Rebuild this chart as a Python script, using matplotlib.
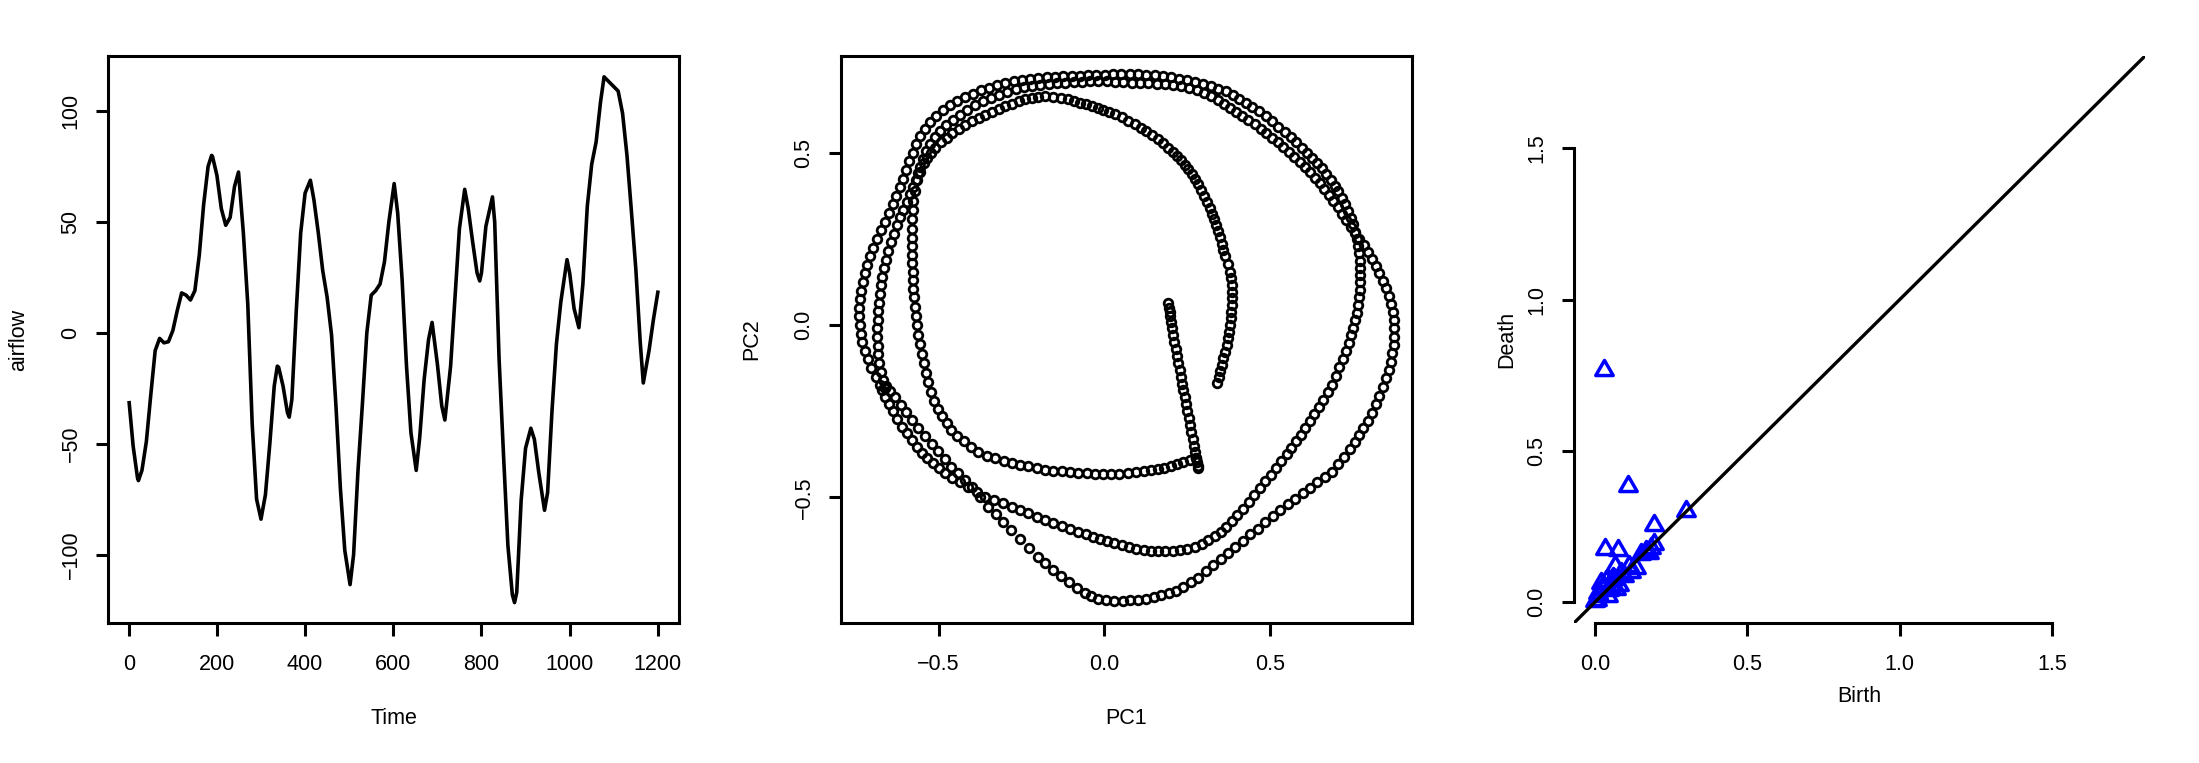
import numpy as np
import matplotlib
matplotlib.use("Agg")
import matplotlib.pyplot as plt
from matplotlib.path import Path

plt.rcParams['font.family'] = ['Liberation Sans', 'DejaVu Sans']
plt.rcParams['font.size'] = 15.5

# ---- panel 1: airflow series ----
time = [1, 10, 20, 22, 30, 40, 50, 60, 70, 80, 90, 100, 110, 120, 130, 140, 150, 160,
        170, 180, 188, 190, 200, 210, 220, 230, 240, 249, 260, 270, 280, 290, 300, 310,
        320, 330, 337, 340, 350, 360, 364, 370, 380, 390, 400, 412, 420, 430, 440, 450,
        460, 470, 480, 490, 502, 510, 520, 530, 540, 550, 560, 570, 580, 590, 602, 610,
        620, 630, 640, 652, 660, 670, 680, 688, 700, 710, 717, 730, 740, 750, 762, 770,
        780, 790, 796, 800, 810, 825, 830, 840, 850, 860, 870, 875, 880, 890, 900, 912,
        920, 930, 943, 950, 960, 970, 980, 994, 1000, 1010, 1021, 1030, 1040, 1050,
        1060, 1070, 1078, 1090, 1100, 1110, 1120, 1130, 1140, 1150, 1160, 1167, 1180,
        1190, 1200]
airflow = [-31.5, -51, -65.5, -66.6, -62, -49, -28, -8, -2.5, -4.5, -4, 1, 10, 18, 17, 14.8,
           19, 35, 58, 75, 80, 79.5, 71, 56, 48.5, 52, 66, 72.5, 45, 13, -41, -75, -84, -73,
           -50, -24, -15, -15.5, -24, -36, -38, -30, 10, 45, 63, 68.8, 60, 45, 28, 16,
           -1, -33, -70, -98, -113.5, -100, -62, -32, 0, 17, 19, 22, 32, 50, 67.3, 54,
           24, -15, -45, -62, -47, -21, -3, 4.7, -14, -33, -39.3, -15, 16, 47, 64.7, 56,
           41, 27, 23.4, 27, 48, 61.3, 50, -12, -55, -96, -118, -121.6, -117, -75.5, -52, -43,
           -48, -63, -80, -72, -35, -5, 14, 33, 27, 11, 2.3, 22, 57, 76,
           86, 104, 115.4, 113, 111, 109, 99, 80, 55, 29, -4, -22.6, -8,
           6, 18.3]
p1_xticks = [0, 200, 400, 600, 800, 1000, 1200]
p1_yticks = [-100, -50, 0, 50, 100]
p1_ylabels = ['\u2212100', '\u221250', '0', '50', '100']

# ---- panel 2: PC1/PC2 trajectory, circles read along each visible strand ----
inner_loop = [
    (0.340, -0.169), (0.344, -0.151), (0.349, -0.133), (0.353, -0.116), (0.358, -0.097),
    (0.363, -0.077), (0.368, -0.058), (0.373, -0.039), (0.376, -0.019), (0.378, 0.000),
    (0.380, 0.019), (0.382, 0.039), (0.383, 0.058), (0.384, 0.078), (0.384, 0.097),
    (0.383, 0.117), (0.381, 0.136), (0.379, 0.155), (0.372, 0.178), (0.363, 0.200),
    (0.358, 0.218), (0.353, 0.236), (0.348, 0.255), (0.343, 0.273), (0.337, 0.290),
    (0.331, 0.307), (0.325, 0.323), (0.318, 0.340), (0.309, 0.357), (0.300, 0.374),
    (0.292, 0.391), (0.283, 0.408), (0.273, 0.423), (0.263, 0.437), (0.253, 0.452),
    (0.243, 0.466), (0.231, 0.478), (0.218, 0.491), (0.206, 0.503), (0.193, 0.515),
    (0.176, 0.528), (0.160, 0.541), (0.143, 0.553), (0.126, 0.563), (0.109, 0.573),
    (0.092, 0.583), (0.072, 0.593), (0.052, 0.603), (0.032, 0.612), (0.015, 0.618),
    (-0.003, 0.624), (-0.020, 0.630), (-0.038, 0.636), (-0.056, 0.641), (-0.074, 0.646),
    (-0.091, 0.650), (-0.109, 0.655), (-0.132, 0.658), (-0.156, 0.662), (-0.179, 0.665),
    (-0.199, 0.663), (-0.219, 0.660), (-0.239, 0.656), (-0.259, 0.650), (-0.279, 0.643),
    (-0.299, 0.635), (-0.319, 0.626), (-0.339, 0.618), (-0.359, 0.609), (-0.379, 0.601),
    (-0.399, 0.592), (-0.419, 0.581), (-0.439, 0.570), (-0.459, 0.558), (-0.476, 0.544),
    (-0.493, 0.530), (-0.510, 0.515), (-0.523, 0.500), (-0.535, 0.485), (-0.545, 0.470),
    (-0.555, 0.445), (-0.565, 0.420), (-0.571, 0.390), (-0.576, 0.360), (-0.578, 0.333),
    (-0.579, 0.307), (-0.580, 0.280), (-0.580, 0.254), (-0.580, 0.228), (-0.580, 0.203),
    (-0.579, 0.179), (-0.578, 0.154), (-0.577, 0.130), (-0.576, 0.106), (-0.574, 0.080),
    (-0.571, 0.053), (-0.568, 0.027), (-0.565, 0.000), (-0.561, -0.028), (-0.556, -0.055),
    (-0.551, -0.083), (-0.545, -0.110), (-0.538, -0.138), (-0.531, -0.165), (-0.523, -0.193),
    (-0.515, -0.220), (-0.503, -0.243), (-0.490, -0.264), (-0.476, -0.285), (-0.462, -0.305),
    (-0.443, -0.322), (-0.423, -0.338), (-0.402, -0.354), (-0.380, -0.370), (-0.355, -0.379),
    (-0.330, -0.387), (-0.304, -0.394), (-0.279, -0.400), (-0.254, -0.405), (-0.229, -0.410),
    (-0.204, -0.415), (-0.179, -0.420), (-0.154, -0.423), (-0.129, -0.425), (-0.104, -0.428),
    (-0.079, -0.430), (-0.054, -0.431), (-0.029, -0.432), (-0.004, -0.432), (0.020, -0.432),
    (0.045, -0.432), (0.070, -0.430), (0.095, -0.428), (0.120, -0.425), (0.140, -0.422),
    (0.160, -0.418), (0.180, -0.414), (0.200, -0.410), (0.219, -0.404), (0.238, -0.398),
    (0.257, -0.392), (0.275, -0.385),
]
center_stroke = [
    (0.193, 0.063), (0.195, 0.050), (0.197, 0.038), (0.198, 0.025), (0.200, 0.010),
    (0.203, -0.010), (0.207, -0.030), (0.211, -0.050), (0.215, -0.070), (0.219, -0.090),
    (0.223, -0.110), (0.227, -0.130), (0.231, -0.150), (0.235, -0.170), (0.238, -0.190),
    (0.242, -0.210), (0.246, -0.230), (0.250, -0.250), (0.254, -0.270), (0.258, -0.290),
    (0.262, -0.310), (0.266, -0.330), (0.270, -0.350), (0.273, -0.370), (0.276, -0.385),
    (0.279, -0.398), (0.281, -0.408), (0.283, -0.416),
]
outer_loop = [
    (-0.675, -0.175), (-0.690, -0.150), (-0.703, -0.125), (-0.714, -0.100), (-0.723, -0.075),
    (-0.730, -0.050), (-0.735, -0.025), (-0.738, 0.000), (-0.739, 0.025), (-0.739, 0.050),
    (-0.737, 0.075), (-0.733, 0.100), (-0.728, 0.125), (-0.722, 0.150), (-0.715, 0.175),
    (-0.707, 0.200), (-0.697, 0.225), (-0.686, 0.250), (-0.674, 0.275), (-0.662, 0.300),
    (-0.650, 0.325), (-0.638, 0.350), (-0.627, 0.375), (-0.616, 0.400), (-0.606, 0.425),
    (-0.597, 0.450), (-0.588, 0.475), (-0.578, 0.500), (-0.567, 0.525), (-0.555, 0.548),
    (-0.541, 0.570), (-0.525, 0.590), (-0.507, 0.608), (-0.487, 0.624), (-0.466, 0.638),
    (-0.444, 0.651), (-0.421, 0.662), (-0.397, 0.672), (-0.373, 0.681), (-0.349, 0.689),
    (-0.324, 0.696), (-0.299, 0.702), (-0.274, 0.707), (-0.249, 0.711), (-0.224, 0.714),
    (-0.199, 0.717), (-0.174, 0.719), (-0.149, 0.721), (-0.124, 0.722), (-0.099, 0.723),
    (-0.074, 0.724), (-0.049, 0.725), (-0.024, 0.726), (0.001, 0.727), (0.026, 0.728),
    (0.051, 0.728), (0.076, 0.728), (0.101, 0.728), (0.126, 0.727), (0.151, 0.725),
    (0.176, 0.723), (0.200, 0.720), (0.224, 0.715), (0.248, 0.710), (0.272, 0.705),
    (0.296, 0.700), (0.320, 0.694), (0.343, 0.686), (0.365, 0.678), (0.386, 0.668),
    (0.406, 0.657), (0.426, 0.645), (0.446, 0.633), (0.466, 0.620), (0.486, 0.606),
    (0.505, 0.591), (0.524, 0.576), (0.543, 0.561), (0.561, 0.545), (0.578, 0.530),
    (0.594, 0.515), (0.610, 0.500), (0.625, 0.485), (0.640, 0.470), (0.655, 0.455),
    (0.669, 0.439), (0.682, 0.422), (0.694, 0.405), (0.705, 0.388), (0.715, 0.370),
    (0.725, 0.351), (0.734, 0.332), (0.742, 0.312), (0.749, 0.292), (0.755, 0.271),
    (0.760, 0.250), (0.764, 0.229), (0.767, 0.208), (0.769, 0.187), (0.770, 0.166),
    (0.771, 0.145), (0.771, 0.124), (0.770, 0.102), (0.768, 0.080), (0.765, 0.058),
    (0.761, 0.036), (0.756, 0.014), (0.750, -0.008), (0.744, -0.030), (0.737, -0.052),
    (0.729, -0.076), (0.718, -0.099), (0.707, -0.122), (0.697, -0.148), (0.686, -0.173),
    (0.673, -0.195), (0.660, -0.217), (0.647, -0.238), (0.633, -0.259), (0.619, -0.280),
    (0.605, -0.300), (0.591, -0.320), (0.577, -0.338), (0.563, -0.356), (0.549, -0.375),
    (0.533, -0.395), (0.517, -0.415), (0.501, -0.434), (0.485, -0.453), (0.469, -0.473),
    (0.452, -0.493), (0.435, -0.513), (0.417, -0.533), (0.400, -0.551), (0.384, -0.568),
    (0.367, -0.585), (0.350, -0.600), (0.332, -0.613), (0.313, -0.625), (0.293, -0.635),
    (0.272, -0.643), (0.250, -0.649), (0.228, -0.653), (0.206, -0.655), (0.184, -0.656),
    (0.162, -0.656), (0.140, -0.655), (0.118, -0.653), (0.096, -0.649), (0.074, -0.644),
    (0.052, -0.639), (0.030, -0.633), (0.009, -0.627), (-0.012, -0.621), (-0.034, -0.614),
    (-0.057, -0.607), (-0.079, -0.600), (-0.104, -0.592), (-0.129, -0.583), (-0.154, -0.575),
    (-0.179, -0.566), (-0.204, -0.556), (-0.229, -0.546), (-0.254, -0.537), (-0.279, -0.527),
    (-0.306, -0.518), (-0.333, -0.508), (-0.360, -0.498), (-0.385, -0.484), (-0.410, -0.469),
    (-0.434, -0.456), (-0.458, -0.443), (-0.481, -0.430), (-0.500, -0.415), (-0.518, -0.400),
    (-0.535, -0.386), (-0.551, -0.372), (-0.566, -0.353), (-0.581, -0.334), (-0.596, -0.314),
    (-0.611, -0.295), (-0.624, -0.273), (-0.636, -0.251), (-0.649, -0.230), (-0.661, -0.208),
    (-0.670, -0.190),
]
middle_loop = [
    (-0.662, -0.184), (-0.668, -0.160), (-0.674, -0.135), (-0.678, -0.110), (-0.681, -0.085),
    (-0.683, -0.060), (-0.684, -0.035), (-0.684, -0.010), (-0.683, 0.015), (-0.682, 0.040),
    (-0.680, 0.065), (-0.677, 0.090), (-0.673, 0.115), (-0.669, 0.140), (-0.664, 0.165),
    (-0.658, 0.190), (-0.651, 0.215), (-0.643, 0.240), (-0.634, 0.265), (-0.625, 0.290),
    (-0.616, 0.313), (-0.606, 0.335), (-0.596, 0.358), (-0.586, 0.380), (-0.577, 0.400),
    (-0.569, 0.420), (-0.562, 0.440), (-0.555, 0.460), (-0.547, 0.482), (-0.537, 0.504),
    (-0.525, 0.525), (-0.511, 0.545), (-0.495, 0.563), (-0.477, 0.580), (-0.457, 0.596),
    (-0.436, 0.611), (-0.414, 0.625), (-0.391, 0.638), (-0.367, 0.650), (-0.343, 0.660),
    (-0.318, 0.669), (-0.293, 0.677), (-0.268, 0.684), (-0.243, 0.690), (-0.218, 0.694),
    (-0.193, 0.697), (-0.168, 0.700), (-0.143, 0.702), (-0.118, 0.704), (-0.093, 0.705),
    (-0.068, 0.706), (-0.043, 0.707), (-0.018, 0.707), (0.007, 0.707), (0.032, 0.706),
    (0.057, 0.705), (0.082, 0.704), (0.107, 0.703), (0.132, 0.702), (0.157, 0.701),
    (0.182, 0.700), (0.207, 0.698), (0.232, 0.694), (0.256, 0.689), (0.279, 0.683),
    (0.301, 0.675), (0.322, 0.665), (0.342, 0.654), (0.360, 0.643), (0.378, 0.631),
    (0.396, 0.619), (0.415, 0.607), (0.434, 0.595), (0.453, 0.583), (0.471, 0.570),
    (0.488, 0.557), (0.505, 0.544), (0.522, 0.530), (0.539, 0.516), (0.556, 0.502),
    (0.572, 0.488), (0.588, 0.473), (0.604, 0.458), (0.619, 0.443), (0.634, 0.428),
    (0.649, 0.412), (0.663, 0.395), (0.677, 0.378), (0.690, 0.360), (0.703, 0.342),
    (0.716, 0.323), (0.729, 0.304), (0.742, 0.285), (0.755, 0.267), (0.768, 0.249),
    (0.781, 0.231), (0.794, 0.212), (0.806, 0.192), (0.818, 0.172), (0.829, 0.151),
    (0.840, 0.129), (0.849, 0.107), (0.857, 0.084), (0.864, 0.061), (0.869, 0.038),
    (0.872, 0.014), (0.874, -0.010), (0.874, -0.034), (0.872, -0.058), (0.868, -0.082),
    (0.863, -0.106), (0.857, -0.130), (0.849, -0.154), (0.840, -0.180), (0.829, -0.205),
    (0.818, -0.230), (0.806, -0.255), (0.794, -0.280), (0.780, -0.300), (0.767, -0.320),
    (0.754, -0.340), (0.740, -0.360), (0.722, -0.382), (0.704, -0.404), (0.686, -0.426),
    (0.664, -0.442), (0.641, -0.457), (0.619, -0.473), (0.597, -0.488), (0.574, -0.504),
    (0.552, -0.519), (0.529, -0.537), (0.507, -0.555), (0.485, -0.573), (0.462, -0.591),
    (0.440, -0.608), (0.417, -0.626), (0.395, -0.644), (0.372, -0.661), (0.350, -0.679),
    (0.328, -0.697), (0.305, -0.715), (0.283, -0.733), (0.261, -0.746), (0.238, -0.760),
    (0.216, -0.773), (0.194, -0.779), (0.171, -0.785), (0.149, -0.790), (0.125, -0.794),
    (0.102, -0.797), (0.078, -0.799), (0.055, -0.800), (0.030, -0.800), (0.005, -0.799),
    (-0.020, -0.795), (-0.040, -0.788), (-0.060, -0.779), (-0.084, -0.763), (-0.108, -0.746),
    (-0.131, -0.730), (-0.154, -0.711), (-0.178, -0.691), (-0.201, -0.672), (-0.228, -0.646),
    (-0.254, -0.621), (-0.281, -0.595), (-0.305, -0.572), (-0.328, -0.550), (-0.352, -0.527),
    (-0.376, -0.499), (-0.400, -0.470), (-0.420, -0.450), (-0.441, -0.431), (-0.461, -0.411),
    (-0.481, -0.389), (-0.501, -0.366), (-0.521, -0.344), (-0.541, -0.321), (-0.561, -0.299),
    (-0.581, -0.276), (-0.598, -0.253), (-0.614, -0.231), (-0.631, -0.208), (-0.645, -0.192),
    (-0.658, -0.176),
]
p2_ticks = [-0.5, 0.0, 0.5]
p2_labels = ['\u22120.5', '0.0', '0.5']

# ---- panel 3: persistence diagram ----
birth = [0.030, 0.109, 0.298, 0.195, 0.034, 0.074, 0.067, 0.151, 0.167, 0.178, 0.183, 0.194,
         0.112, 0.117, 0.133, 0.096, 0.079, 0.068, 0.063, 0.052, 0.036, 0.041, 0.025, 0.020,
         0.014, 0.005, 0.000, 0.010, 0.030, 0.045, 0.085, 0.060]
death = [0.767, 0.384, 0.301, 0.254, 0.175, 0.173, 0.120, 0.158, 0.169, 0.163, 0.180, 0.191,
         0.118, 0.101, 0.112, 0.085, 0.058, 0.043, 0.075, 0.053, 0.070, 0.021, 0.042, 0.064,
         0.020, 0.008, 0.005, 0.030, 0.050, 0.040, 0.095, 0.080]
p3_ticks = [0.0, 0.5, 1.0, 1.5]
p3_labels = ['0.0', '0.5', '1.0', '1.5']
p3_lim = [-0.069, 1.805]

W, H = 2199, 763
fig = plt.figure(figsize=(W / 100, H / 100), dpi=100)


def add_panel(left_px):
    # plot regions are 571 x 567 px, top at 56 px
    return fig.add_axes([left_px / W, (H - 623) / H, 571 / W, 567 / H])


def style_ticks(ax):
    ax.tick_params(direction='out', length=9, width=2.2, color='black')
    ax.tick_params(axis='x', pad=13)
    ax.tick_params(axis='y', pad=10, labelrotation=90)
    plt.setp(ax.get_yticklabels(), va='center')


# panel 1
ax1 = add_panel(108)
ax1.plot(time, airflow, color='black', lw=2.6, solid_joinstyle='round')
ax1.set_xlim(-47, 1248)
ax1.set_ylim(-130.8, 124.8)
ax1.set_xticks(p1_xticks)
ax1.set_yticks(p1_yticks)
ax1.set_yticklabels(p1_ylabels)
for s in ax1.spines.values():
    s.set_linewidth(2.2)
style_ticks(ax1)
ax1.text(0.5, -0.169, 'Time', transform=ax1.transAxes, ha='center', va='center')
ax1.text(-0.156, 0.5, 'airflow', transform=ax1.transAxes, ha='center', va='center', rotation=90)

# panel 2
ax2 = add_panel(841)
for strand in (inner_loop, center_stroke, outer_loop, middle_loop):
    px, py = np.array(strand).T
    ax2.plot(px, py, 'o', mfc='none', mec='black', ms=6.2, mew=2.0)
ax2.set_xlim(-0.794, 0.927)
ax2.set_ylim(-0.865, 0.781)
ax2.set_xticks(p2_ticks)
ax2.set_xticklabels(p2_labels)
ax2.set_yticks(p2_ticks)
ax2.set_yticklabels(p2_labels)
for s in ax2.spines.values():
    s.set_linewidth(2.2)
style_ticks(ax2)
ax2.text(0.5, -0.169, 'PC1', transform=ax2.transAxes, ha='center', va='center')
ax2.text(-0.156, 0.5, 'PC2', transform=ax2.transAxes, ha='center', va='center', rotation=90)

# panel 3
ax3 = add_panel(1574)
tri = Path([(0, 1.555), (1.3468, -0.7776), (-1.3468, -0.7776), (0, 1.555)],
           [Path.MOVETO, Path.LINETO, Path.LINETO, Path.CLOSEPOLY])
ax3.plot(birth, death, linestyle='none', marker=tri, mfc='none', mec='#0000ff',
         ms=14.5, mew=2.5, zorder=2)
ax3.plot(p3_lim, p3_lim, color='black', lw=2.4, zorder=3)
ax3.set_xlim(p3_lim)
ax3.set_ylim(p3_lim)
ax3.set_xticks(p3_ticks)
ax3.set_xticklabels(p3_labels)
ax3.set_yticks(p3_ticks)
ax3.set_yticklabels(p3_labels)
ax3.spines['top'].set_visible(False)
ax3.spines['right'].set_visible(False)
for side in ('left', 'bottom'):
    ax3.spines[side].set_linewidth(2.2)
    ax3.spines[side].set_bounds(0, 1.5)
style_ticks(ax3)
ax3.text(0.5, -0.1305, 'Birth', transform=ax3.transAxes, ha='center', va='center')
ax3.text(-0.117, 0.5, 'Death', transform=ax3.transAxes, ha='center', va='center', rotation=90)

fig.savefig('out.png', dpi=100)
